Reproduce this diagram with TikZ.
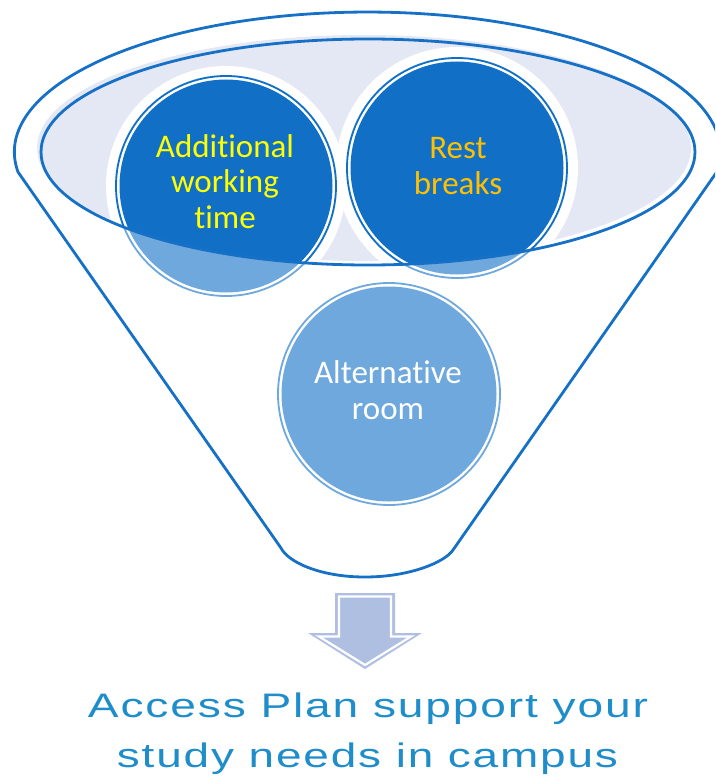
\documentclass[tikz,border=0pt]{standalone}
\usepackage{fontspec}
\usepackage{graphicx}
\setmainfont[Ligatures=NoCommon]{Carlito}
\newfontfamily\bottomfont[LetterSpace=4]{Liberation Sans}
\definecolor{funblue}{HTML}{1570C6}
\definecolor{darkfill}{HTML}{1170C6}
\definecolor{lightfill}{HTML}{6FA8DC}
\definecolor{lav}{HTML}{E4E8F4}
\definecolor{arrowfill}{HTML}{AFBFE2}
\definecolor{txtyellow}{HTML}{FFFF00}
\definecolor{txtorange}{HTML}{FFC000}
\definecolor{bottomblue}{HTML}{1F8DC9}
\tikzset{
  funnelline/.style={draw=funblue, line width=2.8pt, line join=round},
  ctext/.style={align=center, inner sep=0pt, font=\fontsize{33}{35.5}\selectfont},
  btext/.style={inner sep=0pt, text=bottomblue, font=\bottomfont\fontsize{34}{40}\selectfont, anchor=base},
}
\newcommand\mycirc[4]{%
  \fill[white] #1 circle[radius=#2];
  \draw[#3, line width=1.8pt] #1 circle[radius=#2-1];
  \fill[#4] #1 circle[radius=#2-4.5];
}
\begin{document}
\begin{tikzpicture}[x=1pt,y=-1pt]
\useasboundingbox (0,0) rectangle (715,778);
\begin{scope}
  \clip (0,0) rectangle (715,778);
  \draw[funnelline] (18,172) arc[start angle=171.8, end angle=368.2, x radius=353, y radius=140]
    -- (453,550) .. controls (445,562) and (410,577) .. (365,577)
    .. controls (320,577) and (288,562) .. (281,548) -- cycle;
\end{scope}
% lavender top of the funnel
\fill[lav] (364,148) ellipse[x radius=327, y radius=113];
\begin{scope}
  \clip (364,148) ellipse[x radius=327, y radius=113];
  \fill[white] (226,186) circle[radius=120];
  \fill[white] (457,168) circle[radius=121];
\end{scope}
% circles (light)
\mycirc{(226,186)}{111}{lightfill}{lightfill}
\mycirc{(457,168)}{111}{lightfill}{lightfill}
\mycirc{(389,394)}{112}{lightfill}{lightfill}
% circles (dark inside the ellipse)
\begin{scope}
  \clip (368,152) ellipse[x radius=327, y radius=113];
  \mycirc{(226,186)}{111}{darkfill}{darkfill}
  \mycirc{(457,168)}{111}{darkfill}{darkfill}
\end{scope}
\draw[funnelline] (368,152) ellipse[x radius=327, y radius=113];
% texts
\node[ctext, text=txtyellow] (addtext) at (225,181.5) {Additional\\working\\time};
\node[ctext, text=txtorange] (resttext) at (458,166) {Rest\\breaks};
\node[ctext, text=white] (alttext) at (388,390) {Alternative\\room};
% arrow
\fill[arrowfill] (335,593) -- (395,593) -- (395,633) -- (422,633) -- (365,669) -- (308,633) -- (335,633) -- cycle;
\draw[white, line width=2.2pt, line join=miter] (339,596.5) -- (391,596.5) -- (391,636.5) -- (411,636.5) -- (365,665) -- (319,636.5) -- (339,636.5) -- cycle;
% bottom text
\node[btext] (line1) at (368,717) {\resizebox{560pt}{\height}{Access Plan support your}};
\node[btext] (line2) at (367.5,767) {\resizebox{501pt}{\height}{study needs in campus}};
\end{tikzpicture}
\end{document}
